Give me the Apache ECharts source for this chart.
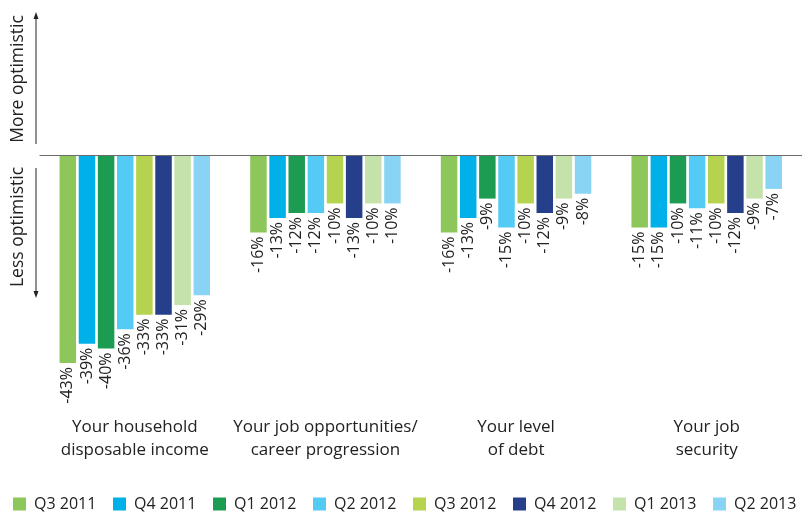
<!DOCTYPE html>
<html>
<head>
<meta charset="utf-8">
<script src="https://cdn.jsdelivr.net/npm/echarts@6/dist/echarts.min.js"></script>
<style>
  html, body { margin: 0; padding: 0; background: #fff; }
  #chart { width: 802px; height: 512px; }
</style>
</head>
<body>
<div id="chart"></div>
<script>
// Survey categories along the horizontal axis
var categories = [
  'Your household\ndisposable income',
  'Your job opportunities/\ncareer progression',
  'Your level\nof debt',
  'Your job\nsecurity'
];

// Quarters shown as series
var quarters = ['Q3 2011', 'Q4 2011', 'Q1 2012', 'Q2 2012', 'Q3 2012', 'Q4 2012', 'Q1 2013', 'Q2 2013'];

// Net balance (%) per quarter, one value per category
var q3_2011 = [-43, -16, -16, -15];
var q4_2011 = [-39, -13, -13, -15];
var q1_2012 = [-40, -12, -9, -10];
var q2_2012 = [-36, -12, -15, -11];
var q3_2012 = [-33, -10, -10, -10];
var q4_2012 = [-33, -13, -12, -12];
var q1_2013 = [-31, -10, -9, -9];
var q2_2013 = [-29, -10, -8, -7];

var seriesValues = [q3_2011, q4_2011, q1_2012, q2_2012, q3_2012, q4_2012, q1_2013, q2_2013];
var colors = ['#8dc75b', '#00b0e8', '#1c9c53', '#54cbf5', '#b5d34f', '#263f8a', '#c5e2ab', '#89d4f5'];

var FONT = '"Open Sans", "Noto Sans", sans-serif';

var series = quarters.map(function (q, i) {
  var s = {
    name: q,
    type: 'bar',
    data: seriesValues[i],
    barWidth: 16.5,
    barGap: '16%',
    itemStyle: { color: colors[i] },
    label: {
      show: true,
      position: 'bottom',
      rotate: 90,
      align: 'right',
      verticalAlign: 'middle',
      distance: 4,
      fontFamily: FONT,
      fontSize: 16,
      color: '#222',
      formatter: function (p) { return p.value + '%'; }
    }
  };
  if (i === 0) {
    // zero baseline
    s.markLine = {
      silent: true,
      symbol: 'none',
      label: { show: false },
      lineStyle: { color: '#6b6b6b', width: 1.2, type: 'solid' },
      data: [{ yAxis: 0 }]
    };
  }
  return s;
});

// one legend entry per quarter, laid out on an even 100px pitch
var legends = quarters.map(function (q, i) {
  return {
    data: [q],
    left: 13 + i * 100,
    top: 496,
    padding: 0,
    itemWidth: 13,
    itemHeight: 13,
    itemGap: 0,
    icon: 'rect',
    textStyle: { fontFamily: FONT, fontSize: 16, color: '#222', padding: [0, 0, 0, 3] }
  };
});

var chart = echarts.init(document.getElementById('chart'), null, { renderer: 'canvas' });

chart.setOption({
  backgroundColor: '#ffffff',
  animation: false,
  color: colors,
  grid: { left: 39.5, top: 10, width: 768, bottom: 149, containLabel: false },
  legend: legends,
  xAxis: {
    type: 'category',
    data: categories,
    axisLine: { show: false, onZero: false },
    axisTick: { show: false },
    axisLabel: {
      margin: 53,
      fontFamily: FONT,
      fontSize: 17,
      lineHeight: 23,
      color: '#222',
      interval: 0
    }
  },
  yAxis: {
    type: 'value',
    min: -43,
    max: 30,
    show: false,
    splitLine: { show: false }
  },
  graphic: [
    {
      type: 'text', x: 18, y: 79, rotation: Math.PI / 2,
      style: { text: 'More optimistic', fontFamily: FONT, fontSize: 17.5, fill: '#222', align: 'center', verticalAlign: 'middle' }
    },
    {
      type: 'text', x: 18, y: 227, rotation: Math.PI / 2,
      style: { text: 'Less optimistic', fontFamily: FONT, fontSize: 17.5, fill: '#222', align: 'center', verticalAlign: 'middle' }
    },
    { type: 'line', shape: { x1: 36, y1: 17, x2: 36, y2: 144 }, style: { stroke: '#222', lineWidth: 1 } },
    { type: 'polygon', shape: { points: [[36, 12], [33.5, 19], [38.5, 19]] }, style: { fill: '#222' } },
    { type: 'line', shape: { x1: 36, y1: 168, x2: 36, y2: 293 }, style: { stroke: '#222', lineWidth: 1 } },
    { type: 'polygon', shape: { points: [[36, 298], [33.5, 291], [38.5, 291]] }, style: { fill: '#222' } }
  ],
  series: series
});
</script>
</body>
</html>
